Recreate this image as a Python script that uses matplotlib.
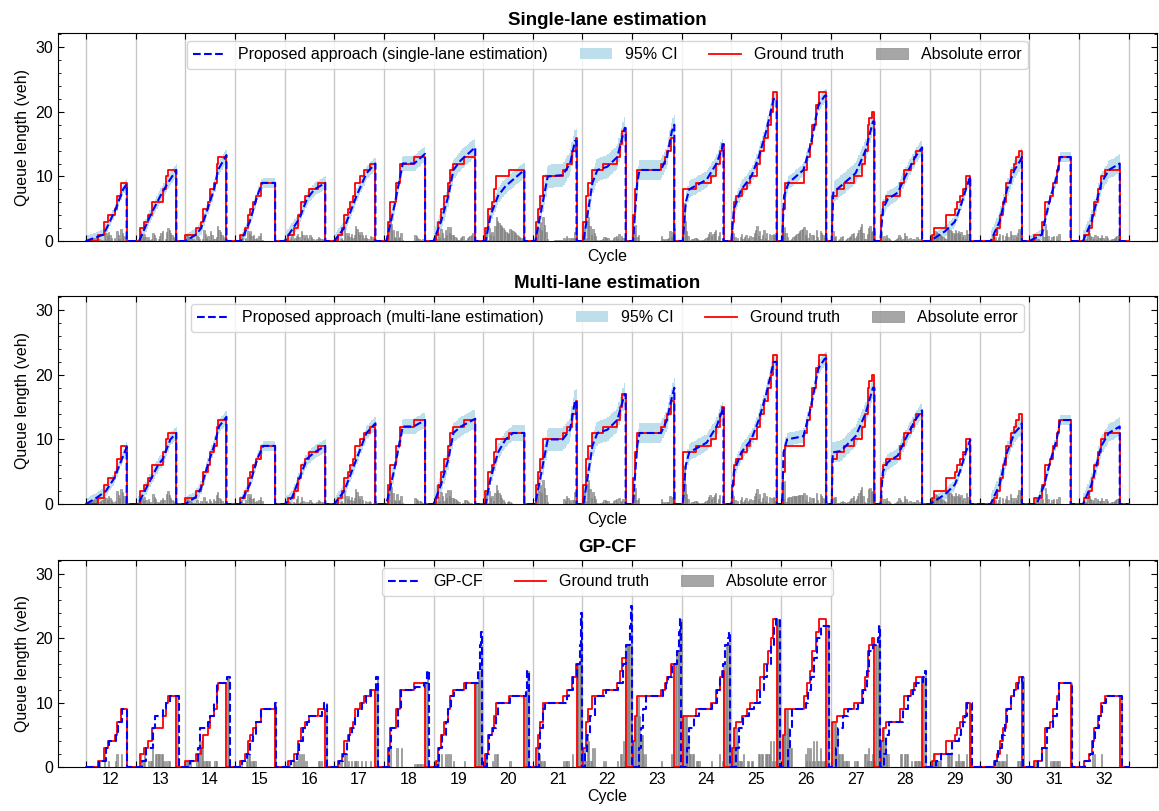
"""Queue length estimation per signal cycle: single-lane, multi-lane and GP-CF."""

import matplotlib
import matplotlib.pyplot as plt
import numpy as np
from matplotlib.ticker import MultipleLocator

matplotlib.use("Agg")

plt.rcParams["font.family"] = ["Liberation Sans", "DejaVu Sans"]

CYCLES = list(range(12, 33))

# ground truth queue per cycle: (fraction of cycle, vehicles) steps, last entry = queue cleared
TRUTH = [
    [(0.24, 1), (0.37, 3), (0.44, 4), (0.58, 5), (0.62, 7), (0.70, 9), (0.82, 0)],
    [(0.09, 2), (0.17, 3), (0.24, 4), (0.34, 6), (0.56, 8), (0.61, 10), (0.65, 11), (0.82, 0)],
    [(0.0, 1), (0.22, 2), (0.32, 3), (0.36, 5), (0.45, 6), (0.49, 8), (0.58, 9), (0.63, 12), (0.65, 13), (0.83, 0)],
    [(0.10, 1), (0.21, 2), (0.26, 4), (0.31, 5), (0.36, 6), (0.42, 7), (0.52, 9), (0.81, 0)],
    [(0.06, 1), (0.18, 2), (0.27, 4), (0.33, 6), (0.42, 7), (0.49, 8), (0.67, 9), (0.82, 0)],
    [(0.08, 1), (0.15, 2), (0.20, 4), (0.27, 5), (0.32, 6), (0.38, 7), (0.42, 9), (0.52, 10), (0.60, 11), (0.73, 12), (0.83, 0)],
    [(0.08, 3), (0.12, 6), (0.24, 9), (0.33, 12), (0.61, 13), (0.83, 0)],
    [(0.05, 1), (0.09, 3), (0.15, 5), (0.22, 7), (0.29, 9), (0.33, 11), (0.39, 12), (0.62, 13), (0.84, 0)],
    [(0.03, 2), (0.10, 5), (0.18, 6), (0.22, 8), (0.26, 10), (0.52, 11), (0.83, 0)],
    [(0.07, 3), (0.10, 5), (0.14, 7), (0.20, 10), (0.61, 11), (0.68, 12), (0.78, 14), (0.86, 16), (0.88, 0)],
    [(0.02, 3), (0.07, 7), (0.12, 9), (0.20, 11), (0.42, 12), (0.69, 13), (0.76, 15), (0.80, 17), (0.87, 0)],
    [(0.02, 4), (0.05, 8), (0.10, 11), (0.59, 12), (0.66, 13), (0.71, 14), (0.79, 16), (0.85, 0)],
    [(0.03, 8), (0.28, 9), (0.59, 10), (0.69, 12), (0.77, 14), (0.80, 15), (0.84, 0)],
    [(0.01, 3), (0.05, 6), (0.10, 7), (0.21, 8), (0.31, 9), (0.38, 10), (0.52, 12), (0.58, 14), (0.66, 16), (0.73, 18), (0.79, 20), (0.84, 23), (0.91, 0)],
    [(0.03, 5), (0.08, 9), (0.46, 11), (0.53, 13), (0.58, 15), (0.63, 18), (0.70, 21), (0.77, 23), (0.91, 0)],
    [(0.03, 7), (0.12, 8), (0.26, 9), (0.46, 10), (0.63, 12), (0.68, 14), (0.74, 18), (0.78, 19), (0.84, 20), (0.88, 0)],
    [(0.02, 4), (0.05, 6), (0.12, 7), (0.40, 9), (0.47, 11), (0.61, 12), (0.68, 13), (0.72, 14), (0.84, 0)],
    [(0.03, 1), (0.08, 2), (0.33, 4), (0.50, 5), (0.55, 6), (0.60, 7), (0.66, 8), (0.72, 10), (0.81, 0)],
    [(0.28, 1), (0.34, 2), (0.41, 4), (0.46, 6), (0.53, 9), (0.62, 11), (0.69, 12), (0.74, 13), (0.79, 14), (0.85, 0)],
    [(0.10, 1), (0.26, 3), (0.31, 6), (0.41, 7), (0.48, 9), (0.55, 11), (0.60, 13), (0.83, 0)],
    [(0.10, 1), (0.21, 2), (0.26, 4), (0.31, 6), (0.38, 8), (0.45, 10), (0.52, 11), (0.82, 0)],
]

# proposed approach, single-lane estimation: (fraction of cycle, vehicles) points
SINGLE_EST = [
    [(0.0, 0), (0.35, 1), (0.45, 2.5), (0.60, 5), (0.75, 8), (0.82, 8.8)],
    [(0.07, 0), (0.30, 4), (0.50, 7), (0.65, 9), (0.82, 11)],
    [(0.0, 0), (0.22, 1), (0.32, 2), (0.45, 5), (0.58, 8), (0.66, 11), (0.83, 13.3)],
    [(0.12, 0), (0.30, 3), (0.45, 7), (0.55, 9), (0.81, 9)],
    [(0.0, 0), (0.30, 3.5), (0.45, 6.5), (0.60, 8), (0.82, 9)],
    [(0.0, 0), (0.20, 2), (0.45, 7), (0.65, 10.5), (0.83, 12)],
    [(0.05, 0), (0.20, 5), (0.38, 12), (0.61, 12), (0.83, 13.5)],
    [(0.0, 0), (0.15, 3), (0.30, 7), (0.40, 11), (0.55, 12.5), (0.84, 14.5)],
    [(0.05, 0), (0.15, 4), (0.30, 7), (0.45, 8.5), (0.83, 11)],
    [(0.05, 0), (0.30, 10), (0.60, 10.2), (0.75, 12), (0.85, 15.5), (0.88, 15.5)],
    [(0.02, 0), (0.20, 9), (0.30, 11), (0.50, 11.5), (0.70, 13), (0.85, 17.5), (0.87, 17.5)],
    [(0.02, 0), (0.10, 9), (0.15, 11), (0.58, 11), (0.70, 13), (0.80, 17), (0.85, 18)],
    [(0.02, 0), (0.08, 6), (0.15, 8), (0.50, 9.5), (0.70, 12), (0.84, 15)],
    [(0.0, 0), (0.05, 5), (0.20, 8), (0.40, 10), (0.55, 13), (0.70, 17), (0.85, 22), (0.91, 22)],
    [(0.02, 0), (0.06, 7), (0.15, 9), (0.45, 11), (0.60, 15), (0.75, 21), (0.88, 22.5), (0.91, 22.5)],
    [(0.02, 0), (0.05, 7.5), (0.20, 8.5), (0.50, 10.5), (0.70, 14), (0.85, 18.5), (0.88, 18.5)],
    [(0.0, 0), (0.05, 5), (0.15, 6.5), (0.35, 7.5), (0.50, 10), (0.70, 13), (0.84, 14.5)],
    [(0.0, 0), (0.30, 1.5), (0.50, 3), (0.60, 5), (0.72, 8), (0.81, 10)],
    [(0.22, 0), (0.40, 3), (0.55, 8), (0.70, 11), (0.82, 12.5), (0.85, 13)],
    [(0.0, 0), (0.25, 1), (0.40, 6), (0.55, 10), (0.62, 13), (0.83, 13)],
    [(0.08, 0), (0.25, 3), (0.45, 9), (0.60, 11), (0.82, 12)],
]

# proposed approach, multi-lane estimation
MULTI_EST = [
    [(0.0, 0), (0.22, 1), (0.40, 2), (0.57, 4), (0.70, 6.5), (0.82, 8.8)],
    [(0.05, 0), (0.25, 3), (0.45, 6), (0.55, 7), (0.70, 10), (0.82, 11)],
    [(0.0, 0), (0.20, 1), (0.32, 2.5), (0.45, 6), (0.58, 9), (0.68, 12), (0.83, 13.5)],
    [(0.10, 0), (0.30, 3), (0.45, 7), (0.57, 9), (0.81, 9)],
    [(0.0, 0), (0.15, 1), (0.30, 4), (0.45, 7), (0.60, 8), (0.82, 9)],
    [(0.0, 0), (0.20, 2), (0.45, 7), (0.65, 11), (0.83, 12.5)],
    [(0.05, 0), (0.20, 5), (0.38, 12), (0.60, 12), (0.83, 13)],
    [(0.0, 0), (0.15, 3), (0.30, 7), (0.40, 11), (0.55, 12), (0.84, 13.2)],
    [(0.05, 0), (0.15, 4), (0.30, 8), (0.45, 10), (0.60, 11), (0.83, 11)],
    [(0.05, 0), (0.30, 10), (0.60, 10), (0.75, 11.5), (0.85, 16), (0.88, 16)],
    [(0.02, 0), (0.20, 9), (0.30, 11), (0.50, 11.5), (0.70, 13), (0.85, 17), (0.87, 17)],
    [(0.02, 0), (0.10, 9), (0.15, 11), (0.58, 11), (0.70, 13), (0.80, 16.5), (0.85, 18)],
    [(0.02, 0), (0.08, 6), (0.15, 8), (0.50, 9.5), (0.70, 12), (0.84, 15)],
    [(0.0, 0), (0.05, 5), (0.20, 8), (0.40, 10), (0.55, 13), (0.70, 17), (0.85, 22), (0.91, 22)],
    [(0.02, 0), (0.05, 8), (0.12, 10), (0.45, 10.5), (0.60, 15), (0.75, 21), (0.88, 22.5), (0.91, 22.5)],
    [(0.02, 0), (0.04, 8), (0.20, 8.2), (0.50, 10.5), (0.70, 14), (0.85, 18), (0.88, 18)],
    [(0.0, 0), (0.05, 5), (0.15, 6.5), (0.35, 7.5), (0.50, 10), (0.70, 13), (0.84, 14.5)],
    [(0.0, 0), (0.30, 1.5), (0.50, 3), (0.60, 5), (0.72, 8), (0.81, 10)],
    [(0.22, 0), (0.40, 3), (0.55, 8), (0.70, 11), (0.82, 12), (0.85, 12.5)],
    [(0.15, 0), (0.30, 3), (0.40, 6), (0.55, 10), (0.62, 13), (0.83, 13)],
    [(0.08, 0), (0.25, 3), (0.45, 9), (0.60, 11), (0.82, 12)],
]

# 95% CI half width per cycle (proposed approach)
CI_HALF = [0.8, 1.0, 1.0, 0.8, 1.0, 1.0, 1.2, 1.5, 1.2, 1.8, 1.8,
           1.6, 1.3, 1.2, 1.0, 1.6, 1.2, 0.8, 1.4, 0.8, 1.4]

# GP-CF estimate: (fraction of cycle, vehicles) steps, last entry = estimate reset
GPCF = [
    [(0.27, 1), (0.40, 3), (0.47, 4), (0.60, 5), (0.64, 7), (0.72, 9), (0.83, 0)],
    [(0.12, 1), (0.20, 3), (0.35, 6), (0.40, 8), (0.55, 9), (0.62, 10), (0.70, 11), (0.87, 0)],
    [(0.10, 1), (0.25, 3), (0.29, 6), (0.45, 7), (0.50, 8), (0.58, 10), (0.63, 13), (0.84, 14), (0.90, 0)],
    [(0.15, 1), (0.25, 2), (0.30, 4), (0.36, 5), (0.42, 7), (0.52, 9), (0.80, 10), (0.82, 0)],
    [(0.12, 1), (0.25, 2), (0.30, 4), (0.38, 6), (0.45, 7), (0.50, 8), (0.75, 9), (0.80, 10), (0.85, 0)],
    [(0.10, 1), (0.18, 2), (0.25, 4), (0.30, 5), (0.36, 6), (0.42, 8), (0.48, 9), (0.55, 10), (0.65, 11), (0.75, 12), (0.85, 14), (0.89, 0)],
    [(0.10, 3), (0.15, 6), (0.28, 9), (0.35, 12), (0.62, 12.5), (0.80, 13), (0.87, 15), (0.90, 0)],
    [(0.08, 1), (0.12, 3), (0.18, 5), (0.25, 7), (0.30, 9), (0.35, 11), (0.42, 12), (0.65, 13), (0.90, 15), (0.94, 19), (0.96, 21), (0.98, 0)],
    [(0.08, 2), (0.12, 5), (0.20, 6), (0.25, 8), (0.30, 10), (0.55, 11), (0.86, 12), (0.89, 15), (0.92, 0)],
    [(0.12, 3), (0.15, 6), (0.20, 9), (0.25, 10), (0.62, 10), (0.68, 11), (0.72, 12), (0.80, 14), (0.88, 16), (0.94, 19), (0.97, 24), (1.0, 0)],
    [(0.06, 2), (0.10, 5), (0.15, 8), (0.25, 11), (0.48, 12), (0.72, 13), (0.82, 16), (0.87, 19), (0.96, 22), (0.98, 25), (1.0, 0)],
    [(0.14, 3), (0.18, 6), (0.22, 9), (0.27, 11), (0.62, 12), (0.68, 13), (0.73, 14), (0.80, 16), (0.90, 18), (0.95, 21), (0.97, 23), (0.99, 0)],
    [(0.10, 3), (0.15, 6), (0.24, 8), (0.35, 9), (0.60, 10), (0.70, 12), (0.76, 14), (0.82, 16), (0.88, 19), (0.94, 20), (0.96, 21), (0.98, 0)],
    [(0.10, 3), (0.15, 6), (0.24, 8), (0.35, 9), (0.45, 10), (0.58, 12), (0.65, 14), (0.72, 16), (0.80, 19), (0.86, 22), (0.90, 23), (0.98, 0)],
    [(0.14, 3), (0.18, 6), (0.22, 9), (0.50, 10), (0.55, 12), (0.60, 14), (0.66, 17), (0.72, 20), (0.80, 22), (0.97, 0)],
    [(0.10, 3), (0.15, 6), (0.25, 8), (0.35, 9), (0.55, 10), (0.65, 12), (0.72, 15), (0.78, 18), (0.85, 19), (0.95, 20), (0.97, 22), (0.99, 0)],
    [(0.08, 2), (0.12, 5), (0.18, 7), (0.45, 9), (0.55, 11), (0.65, 12), (0.72, 13), (0.85, 14), (0.90, 15), (0.92, 0)],
    [(0.12, 1), (0.22, 2), (0.45, 4), (0.58, 5), (0.62, 6), (0.66, 7), (0.70, 8), (0.74, 10), (0.84, 0)],
    [(0.30, 1), (0.36, 3), (0.45, 5), (0.50, 7), (0.55, 9), (0.62, 11), (0.70, 12), (0.78, 13), (0.85, 14), (0.88, 0)],
    [(0.18, 1), (0.25, 3), (0.36, 6), (0.48, 8), (0.55, 10), (0.60, 13), (0.86, 0)],
    [(0.12, 1), (0.22, 2), (0.28, 4), (0.33, 6), (0.40, 8), (0.47, 10), (0.54, 11), (0.86, 0)],
]

SAMPLES = 36  # time steps per cycle


def steps_xy(step_lists):
    xs, ys = [], []
    for c, steps in zip(CYCLES, step_lists):
        start = c - 0.5
        xs.append(start)
        ys.append(0)
        for f, v in steps:
            xs.append(start + f)
            ys.append(v)
    xs.append(CYCLES[-1] + 0.5)
    ys.append(0)
    return np.array(xs), np.array(ys)


def line_xy(point_lists):
    xs, ys = [], []
    for c, pts, truth in zip(CYCLES, point_lists, TRUTH):
        start = c - 0.5
        drop = truth[-1][0]
        xs += [start] + [start + f for f, _ in pts] + [start + drop, start + drop]
        ys += [0] + [v for _, v in pts] + [pts[-1][1], 0]
    xs.append(CYCLES[-1] + 0.5)
    ys.append(0)
    return np.array(xs), np.array(ys)


def step_values(steps, t):
    fs = np.array([s[0] for s in steps])
    vs = np.array([s[1] for s in steps], dtype=float)
    idx = np.searchsorted(fs, t, side="right") - 1
    return np.where(idx >= 0, vs[np.clip(idx, 0, None)], 0.0)


def line_values(pts, drop, t):
    fs = [p[0] for p in pts]
    vs = [p[1] for p in pts]
    y = np.interp(t, fs, vs, left=0.0)
    active = (t >= fs[0]) & (t < drop)
    return np.where(active, y, 0.0), active


t_edge = np.arange(SAMPLES) / SAMPLES
t_mid = t_edge + 0.5 / SAMPLES

fig = plt.figure(figsize=(11.59, 8.11), dpi=100)
boxes = [
    [0.05, 0.7028, 0.948, 0.2565],
    [0.05, 0.3785, 0.948, 0.2565],
    [0.05, 0.0543, 0.948, 0.2552],
]
titles = ["Single-lane estimation", "Multi-lane estimation", "GP-CF"]
est_labels = ["Proposed approach (single-lane estimation)",
              "Proposed approach (multi-lane estimation)", "GP-CF"]
estimates = [SINGLE_EST, MULTI_EST, None]

red_x, red_y = steps_xy(TRUTH)
bounds = [c - 0.5 for c in CYCLES] + [CYCLES[-1] + 0.5]

for k, box in enumerate(boxes):
    ax = fig.add_axes(box)
    est = estimates[k]

    for b in bounds:
        ax.axvline(b, color="#c8c8c8", lw=1.0, zorder=0)

    ci_handle = None
    for j, c in enumerate(CYCLES):
        start = c - 0.5
        truth_v = step_values(TRUTH[j], t_mid)
        if est is not None:
            drop = TRUTH[j][-1][0]
            est_v, active = line_values(est[j], drop, t_mid)
            lo = np.clip(est_v - CI_HALF[j], 0, None)
            hi = est_v + CI_HALF[j]
            idx = np.where(active)[0]
            if len(idx):
                xx = start + np.append(t_edge[idx], t_edge[idx[-1]] + 1 / SAMPLES)
                ci_handle = ax.fill_between(
                    xx, np.append(lo[idx], lo[idx[-1]]), np.append(hi[idx], hi[idx[-1]]),
                    step="post", color="lightblue", alpha=0.8, lw=0, zorder=1,
                    label="95% CI")
            err = np.abs(est_v - truth_v)
            bar_w = 1.0 / SAMPLES
        else:
            gp_v = step_values(GPCF[j], t_mid)
            err = np.abs(gp_v - truth_v)
            bar_w = 0.85 / SAMPLES
        err_handle = ax.bar(start + t_mid, err, width=bar_w, color="gray",
                            edgecolor="gray", alpha=0.7, lw=0.6, zorder=2,
                            label="Absolute error")

    (truth_line,) = ax.plot(red_x, red_y, color="red", lw=1.3,
                            drawstyle="steps-post", zorder=3, label="Ground truth")
    if est is not None:
        bx, by = line_xy(est)
        (est_line,) = ax.plot(bx, by, color="blue", lw=1.5, ls="--", zorder=4,
                              label=est_labels[k])
        handles = [est_line, ci_handle, truth_line, err_handle]
    else:
        gx, gy = steps_xy(GPCF)
        (est_line,) = ax.plot(gx, gy, color="blue", lw=1.5, ls="--", zorder=4,
                              drawstyle="steps-post", label=est_labels[k])
        handles = [est_line, truth_line, err_handle]

    ax.legend(handles=handles, loc="upper center", ncol=len(handles), fontsize=11.5)

    ax.set_xlim(CYCLES[0] - 1.064, CYCLES[-1] + 1.064)
    ax.set_ylim(0, 32.2)
    ax.set_xticks(bounds)
    ax.set_xticklabels([])
    ax.set_xticks(CYCLES, minor=True)
    if k == 2:
        ax.set_xticklabels([str(c) for c in CYCLES], minor=True)
    ax.tick_params(axis="x", which="minor", length=0, labelsize=11.5)
    ax.tick_params(axis="x", which="major", direction="in", top=True, length=4)
    ax.yaxis.set_major_locator(MultipleLocator(10))
    ax.yaxis.set_minor_locator(MultipleLocator(2))
    ax.tick_params(axis="y", which="both", direction="in", right=True, labelsize=11.5)
    ax.tick_params(axis="y", which="major", length=4)
    ax.tick_params(axis="y", which="minor", length=2)
    ax.set_ylabel("Queue length (veh)", fontsize=11.5)
    ax.set_xlabel("Cycle", fontsize=11.5, labelpad=2)
    ax.set_title(titles[k], fontsize=13.5, fontweight="bold")

fig.savefig("out.png", dpi=100)
plt.close(fig)
